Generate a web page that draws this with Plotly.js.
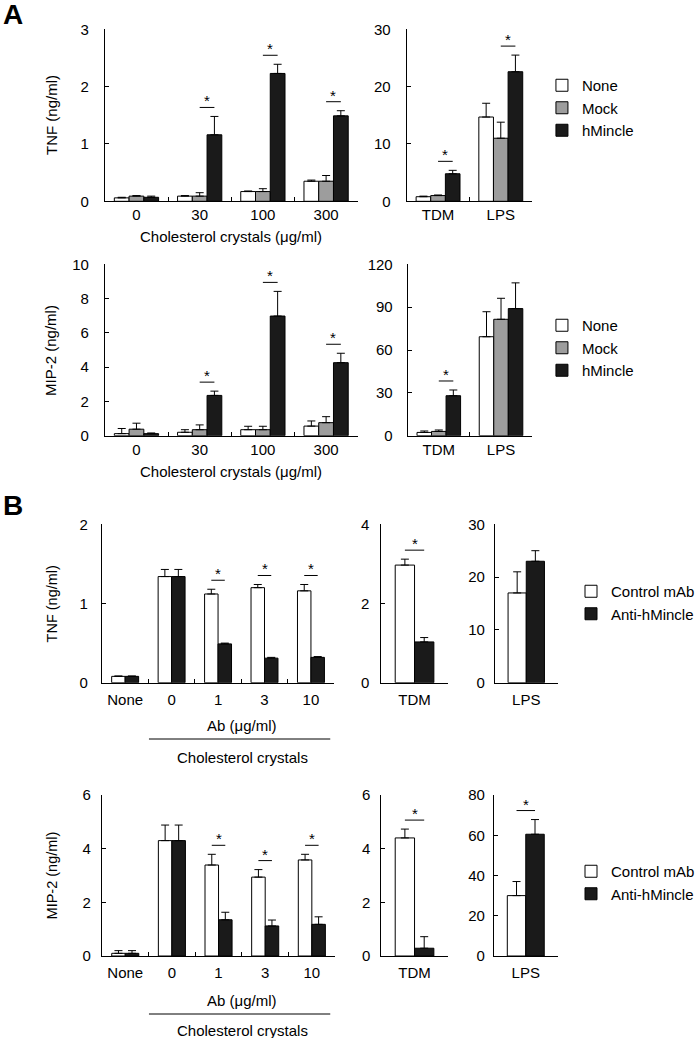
<!DOCTYPE html>
<html>
<head>
<meta charset="utf-8">
<script src="https://cdn.plot.ly/plotly-3.0.1.min.js"></script>
<style>html,body{margin:0;padding:0;background:#fff;}#chart{width:700px;height:1038px;}</style>
</head>
<body>
<div id="chart"></div>
<script>
// ---------- DATA ----------
const aCrystalCats = ['0', '30', '100', '300'];
const aControlCats = ['TDM', 'LPS'];
const aSeriesNames = ['None', 'Mock', 'hMincle'];

// A: TNF (ng/ml), cholesterol crystals
const aTnfNone = [0.06, 0.09, 0.17, 0.35];
const aTnfNoneErr = [0.01, 0.01, 0.01, 0.02];
const aTnfMock = [0.09, 0.09, 0.17, 0.35];
const aTnfMockErr = [0.01, 0.06, 0.05, 0.10];
const aTnfHm = [0.07, 1.16, 2.23, 1.49];
const aTnfHmErr = [0.02, 0.32, 0.16, 0.09];
// A: TNF, controls
const aTnfCtlNone = [0.8, 14.7];
const aTnfCtlNoneErr = [0.1, 2.4];
const aTnfCtlMock = [1.0, 11.0];
const aTnfCtlMockErr = [0.1, 2.8];
const aTnfCtlHm = [4.8, 22.6];
const aTnfCtlHmErr = [0.6, 2.9];
// A: MIP-2 (ng/ml), cholesterol crystals
const aMipNone = [0.12, 0.20, 0.35, 0.56];
const aMipNoneErr = [0.30, 0.15, 0.20, 0.30];
const aMipMock = [0.38, 0.35, 0.35, 0.76];
const aMipMockErr = [0.35, 0.28, 0.20, 0.35];
const aMipHm = [0.12, 2.35, 6.98, 4.26];
const aMipHmErr = [0.04, 0.25, 1.44, 0.55];
// A: MIP-2, controls
const aMipCtlNone = [2.3, 69.3];
const aMipCtlNoneErr = [1.0, 17.5];
const aMipCtlMock = [3.0, 81.5];
const aMipCtlMockErr = [1.0, 14.7];
const aMipCtlHm = [28.0, 89.0];
const aMipCtlHmErr = [4.0, 18.0];

// significance marks (Mock vs hMincle)
const aTnfSig = ['30', '100', '300'];
const aTnfCtlSig = ['TDM', 'LPS'];
const aMipSig = ['30', '100', '300'];
const aMipCtlSig = ['TDM'];

// B
const bAbCats = ['None', '0', '1', '3', '10'];
const bTdmCats = ['TDM'];
const bLpsCats = ['LPS'];
const bSeriesNames = ['Control mAb', 'Anti-hMincle'];

const bTnfCtl = [0.08, 1.34, 1.12, 1.20, 1.16];
const bTnfCtlErr = [0.005, 0.09, 0.06, 0.04, 0.08];
const bTnfAnti = [0.08, 1.34, 0.49, 0.31, 0.32];
const bTnfAntiErr = [0.005, 0.09, 0.01, 0.01, 0.01];
const bTnfTdmCtl = [2.97];
const bTnfTdmCtlErr = [0.15];
const bTnfTdmAnti = [1.03];
const bTnfTdmAntiErr = [0.11];
const bTnfLpsCtl = [17.0];
const bTnfLpsCtlErr = [4.0];
const bTnfLpsAnti = [23.0];
const bTnfLpsAntiErr = [2.0];

const bMipCtl = [0.10, 4.30, 3.39, 2.94, 3.58];
const bMipCtlErr = [0.10, 0.58, 0.40, 0.28, 0.21];
const bMipAnti = [0.10, 4.30, 1.35, 1.12, 1.18];
const bMipAntiErr = [0.10, 0.58, 0.28, 0.22, 0.28];
const bMipTdmCtl = [4.40];
const bMipTdmCtlErr = [0.33];
const bMipTdmAnti = [0.29];
const bMipTdmAntiErr = [0.43];
const bMipLpsCtl = [30.0];
const bMipLpsCtlErr = [7.0];
const bMipLpsAnti = [60.5];
const bMipLpsAntiErr = [7.3];

const bTnfSig = ['1', '3', '10'];
const bTnfTdmSig = ['TDM'];
const bTnfLpsSig = [];
const bMipSig = ['1', '3', '10'];
const bMipTdmSig = ['TDM'];
const bMipLpsSig = ['LPS'];

// ---------- STYLE / LAYOUT ----------
const W = 700, H = 1038;
const FONT = 'Liberation Sans, Arial, Helvetica, sans-serif';
const WHITE = '#ffffff', GRAY = '#9d9d9d', BLACK = '#1a1a1a';
const px2x = p => p / W;
const px2y = p => 1 - p / H;

const data = [];
const layout = {
  width: W, height: H,
  margin: {l: 0, r: 0, t: 0, b: 0},
  paper_bgcolor: '#ffffff', plot_bgcolor: 'rgba(0,0,0,0)',
  barmode: 'overlay',
  font: {family: FONT, size: 15, color: '#000'},
  showlegend: true,
  annotations: [], shapes: []
};

function panel(k, box, cats, yMax, dtick, series, sig, sigPair, barW, yStand, legendId) {
  const xs = k === 1 ? '' : String(k);
  const xName = 'xaxis' + xs, yName = 'yaxis' + xs;
  const xr = 'x' + xs, yr = 'y' + xs;
  layout[xName] = {
    domain: [px2x(box.l), px2x(box.r)], anchor: yr, type: 'category',
    range: [-0.5, cats.length - 0.5], showline: true, linecolor: '#000', linewidth: 1,
    ticks: 'inside', tickson: 'boundaries', ticklen: 4, tickcolor: '#000', tickwidth: 1,
    showgrid: false, zeroline: false, fixedrange: true,
    tickfont: {family: FONT, size: 15, color: '#000'}, ticklabelstandoff: box.xStand
  };
  layout[yName] = {
    domain: [px2y(box.b), px2y(box.t)], anchor: xr,
    range: [0, yMax], tick0: 0, dtick: dtick, showline: true, linecolor: '#000', linewidth: 1,
    ticks: 'inside', ticklen: 4, tickcolor: '#000', tickwidth: 1,
    showgrid: false, zeroline: false, fixedrange: true,
    tickfont: {family: FONT, size: 15, color: '#000'}, ticklabelstandoff: yStand
  };
  const n = series.length;
  const offs = series.map((s, i) => -barW * n / 2 + i * barW);
  series.forEach((s, i) => {
    data.push({
      type: 'bar', x: cats, y: s.vals, name: s.name, xaxis: xr, yaxis: yr,
      offset: offs[i], width: barW,
      marker: {color: s.color, line: {color: '#000', width: 1}},
      error_y: {type: 'data', symmetric: false, array: s.errs, arrayminus: s.errs.map(() => 0),
                color: '#000', thickness: 1, width: 4},
      showlegend: !!legendId, legend: legendId || 'legend',
      legendgroup: (legendId || 'none') + '_' + i,
      hoverinfo: 'skip'
    });
  });
  const pxPerUnit = (box.b - box.t) / yMax;
  sig.forEach(c => {
    const idx = cats.indexOf(c);
    const a = series[sigPair[0]], b = series[sigPair[1]];
    const top = Math.max(a.vals[idx] + a.errs[idx], b.vals[idx] + b.errs[idx]);
    const yLine = top + 9 / pxPerUnit;
    const x0 = idx + offs[sigPair[0]] + barW / 2;
    const x1 = idx + offs[sigPair[1]] + barW / 2;
    layout.shapes.push({type: 'line', xref: xr, yref: yr, x0: x0, x1: x1, y0: yLine, y1: yLine,
                        line: {color: '#000', width: 1}});
    layout.annotations.push({xref: xr, yref: yr, x: (x0 + x1) / 2, y: yLine, text: '*',
                             showarrow: false, yanchor: 'bottom', yshift: -4,
                             font: {family: FONT, size: 15, color: '#000'}});
  });
}

function ser(names, colors, vals, errs) {
  return names.map((nm, i) => ({name: nm, color: colors[i], vals: vals[i], errs: errs[i]}));
}
const aColors = [WHITE, GRAY, BLACK];
const bColors = [WHITE, BLACK];
const AW = 0.7 / 3, BW = 0.29;

// A top
panel(1, {l: 107, r: 365, t: 29.3, b: 201.3, xStand: 0}, aCrystalCats, 3, 1,
  ser(aSeriesNames, aColors, [aTnfNone, aTnfMock, aTnfHm], [aTnfNoneErr, aTnfMockErr, aTnfHmErr]),
  aTnfSig, [1, 2], AW, 12, 'legend');
panel(2, {l: 415, r: 543, t: 29.3, b: 201.3, xStand: 0}, aControlCats, 30, 10,
  ser(aSeriesNames, aColors, [aTnfCtlNone, aTnfCtlMock, aTnfCtlHm], [aTnfCtlNoneErr, aTnfCtlMockErr, aTnfCtlHmErr]),
  aTnfCtlSig, [1, 2], AW, 12, null);
// A bottom
panel(3, {l: 107, r: 365, t: 264.3, b: 435.7, xStand: 0}, aCrystalCats, 10, 2,
  ser(aSeriesNames, aColors, [aMipNone, aMipMock, aMipHm], [aMipNoneErr, aMipMockErr, aMipHmErr]),
  aMipSig, [1, 2], AW, 12, 'legend2');
panel(4, {l: 416, r: 543, t: 264.3, b: 435.7, xStand: 0}, aControlCats, 120, 30,
  ser(aSeriesNames, aColors, [aMipCtlNone, aMipCtlMock, aMipCtlHm], [aMipCtlNoneErr, aMipCtlMockErr, aMipCtlHmErr]),
  aMipCtlSig, [1, 2], AW, 11, null);
// B top
panel(5, {l: 104, r: 341, t: 524.3, b: 682.7, xStand: 3}, bAbCats, 2, 1,
  ser(bSeriesNames, bColors, [bTnfCtl, bTnfAnti], [bTnfCtlErr, bTnfAntiErr]),
  bTnfSig, [0, 1], BW, 10, 'legend3');
panel(6, {l: 389, r: 457, t: 524.3, b: 682.7, xStand: 3}, bTdmCats, 4, 2,
  ser(bSeriesNames, bColors, [bTnfTdmCtl, bTnfTdmAnti], [bTnfTdmCtlErr, bTnfTdmAntiErr]),
  bTnfTdmSig, [0, 1], BW, 8, null);
panel(7, {l: 505, r: 569, t: 524.3, b: 682.7, xStand: 3}, bLpsCats, 30, 10,
  ser(bSeriesNames, bColors, [bTnfLpsCtl, bTnfLpsAnti], [bTnfLpsCtlErr, bTnfLpsAntiErr]),
  bTnfLpsSig, [0, 1], BW, 6, null);
// B bottom
panel(8, {l: 104, r: 342, t: 795, b: 956, xStand: 3}, bAbCats, 6, 2,
  ser(bSeriesNames, bColors, [bMipCtl, bMipAnti], [bMipCtlErr, bMipAntiErr]),
  bMipSig, [0, 1], BW, 7, 'legend4');
panel(9, {l: 389, r: 457, t: 795, b: 956, xStand: 3}, bTdmCats, 6, 2,
  ser(bSeriesNames, bColors, [bMipTdmCtl, bMipTdmAnti], [bMipTdmCtlErr, bMipTdmAntiErr]),
  bMipTdmSig, [0, 1], BW, 7, null);
panel(10, {l: 504, r: 569, t: 795, b: 956, xStand: 3}, bLpsCats, 80, 20,
  ser(bSeriesNames, bColors, [bMipLpsCtl, bMipLpsAnti], [bMipLpsCtlErr, bMipLpsAntiErr]),
  bMipLpsSig, [0, 1], BW, 5, null);

// legends
function leg(xPx, yPx, gap) {
  return {x: px2x(xPx), y: px2y(yPx), xanchor: 'left', yanchor: 'top', bgcolor: 'rgba(0,0,0,0)',
          font: {family: FONT, size: 15, color: '#000'}, tracegroupgap: gap, traceorder: 'normal'};
}
layout.legend = leg(553, 69, 0);
layout.legend2 = leg(553, 309, 0);
layout.legend3 = leg(583, 575, 10);
layout.legend4 = leg(583, 855, 10);

// text labels
function txt(text, xPx, yPx, size, extra) {
  layout.annotations.push(Object.assign({xref: 'paper', yref: 'paper', x: px2x(xPx), y: px2y(yPx),
    text: text, showarrow: false, xanchor: 'center', yanchor: 'middle',
    font: {family: FONT, size: size, color: '#000'}}, extra || {}));
}
txt('<b>A</b>', 13, 14, 28);
txt('<b>B</b>', 13, 505, 28);
txt('TNF (ng/ml)', 52, 115, 15, {textangle: -90});
txt('MIP-2 (ng/ml)', 52, 350, 15, {textangle: -90});
txt('TNF (ng/ml)', 53, 603.5, 14.5, {textangle: -90});
txt('MIP-2 (ng/ml)', 53, 875.5, 14.5, {textangle: -90});
txt('Cholesterol crystals (μg/ml)', 236, 237, 15);
txt('Cholesterol crystals (μg/ml)', 236, 471, 15);
txt('Ab (μg/ml)', 247, 725, 15);
txt('Cholesterol crystals', 247, 757, 15);
txt('Ab (μg/ml)', 247, 1000, 15);
txt('Cholesterol crystals', 247, 1030, 15);
layout.shapes.push({type: 'line', xref: 'paper', yref: 'paper', x0: px2x(152), x1: px2x(337),
  y0: px2y(739), y1: px2y(739), line: {color: '#000', width: 1}});
layout.shapes.push({type: 'line', xref: 'paper', yref: 'paper', x0: px2x(152), x1: px2x(337),
  y0: px2y(1014), y1: px2y(1014), line: {color: '#000', width: 1}});

Plotly.newPlot('chart', data, layout, {staticPlot: true, displayModeBar: false});
</script>
</body>
</html>
